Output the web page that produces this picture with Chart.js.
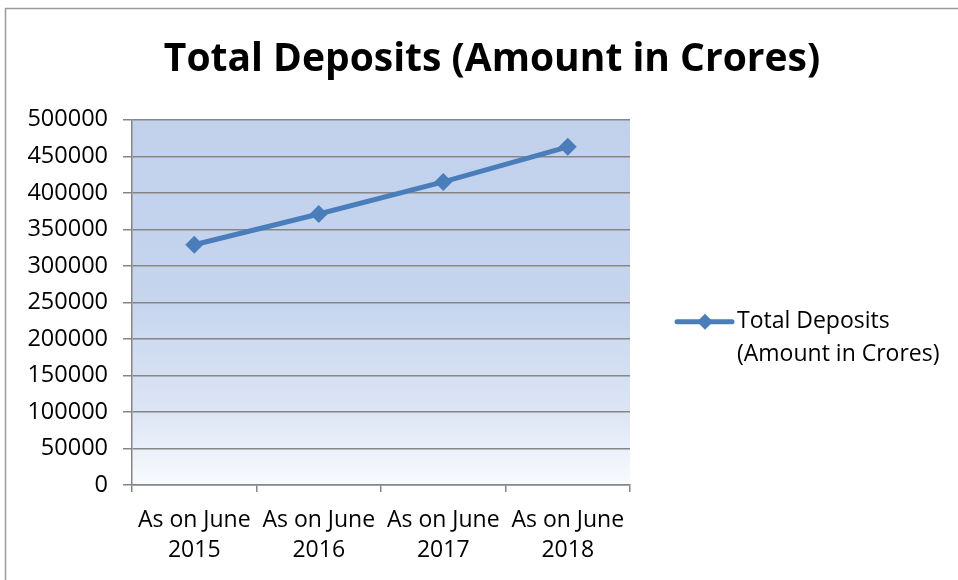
<!DOCTYPE html>
<html>
<head>
<meta charset="utf-8">
<script src="https://cdn.jsdelivr.net/npm/chart.js@4.4.1/dist/chart.umd.min.js"></script>
<style>
  html, body { margin: 0; padding: 0; background: #fff; }
  #wrap { width: 958px; height: 580px; }
</style>
</head>
<body>
<div id="wrap"><canvas id="depositChart" width="958" height="580"></canvas></div>
<script>
// values
const years = ['2015', '2016', '2017', '2018'];
const categories = years.map(y => ['As on June', y]);
const deposits = [329000, 371000, 415000, 463000];
const seriesName = 'Total Deposits (Amount in Crores)';
const legendLines = ['Total Deposits', '(Amount in Crores)'];
const yMin = 0;
const yMax = 500000;
const yStep = 50000;

const lineColor = '#4a7ebb';
const gridColor = '#868686';
const fontFamily = "'Open Sans', 'DejaVu Sans', sans-serif";

// gradient fill behind the plot + outer frame
const plotBackground = {
    id: 'plotBackground',
    beforeDraw(chart) {
        const { ctx, chartArea } = chart;
        ctx.save();
        ctx.fillStyle = '#fff';
        ctx.fillRect(0, 0, chart.width, chart.height);
        const g = ctx.createLinearGradient(0, chartArea.top, 0, chartArea.bottom);
        g.addColorStop(0, '#c1d1ec');
        g.addColorStop(0.5, '#c6d5ee');
        g.addColorStop(0.8, '#dce5f4');
        g.addColorStop(1, '#f9fbfe');
        ctx.fillStyle = g;
        ctx.fillRect(chartArea.left, chartArea.top, chartArea.right - chartArea.left, chartArea.bottom - chartArea.top);
        ctx.strokeStyle = '#9a9a9a';
        ctx.lineWidth = 1.5;
        ctx.strokeRect(5.5, 8.5, chart.width + 20, chart.height + 20);
        ctx.restore();
    }
};

// legend drawn by hand: line + diamond, two-line label
const sideLegend = {
    id: 'sideLegend',
    afterDraw(chart) {
        const { ctx, chartArea } = chart;
        const x0 = chartArea.right + 47;
        const y0 = chartArea.top + 202;
        ctx.save();
        ctx.strokeStyle = lineColor;
        ctx.lineWidth = 5;
        ctx.lineCap = 'round';
        ctx.beginPath();
        ctx.moveTo(x0, y0);
        ctx.lineTo(x0 + 55, y0);
        ctx.stroke();
        ctx.fillStyle = lineColor;
        ctx.beginPath();
        ctx.moveTo(x0 + 28, y0 - 8);
        ctx.lineTo(x0 + 36, y0);
        ctx.lineTo(x0 + 28, y0 + 8);
        ctx.lineTo(x0 + 20, y0);
        ctx.closePath();
        ctx.fill();
        ctx.fillStyle = '#000';
        ctx.font = '23px ' + fontFamily;
        ctx.textBaseline = 'middle';
        ctx.textAlign = 'left';
        legendLines.forEach((t, i) => {
            ctx.fillText(t, x0 + 60, y0 + i * 33);
        });
        ctx.restore();
    }
};

const ctx = document.getElementById('depositChart').getContext('2d');
const depositChart = new Chart(ctx, {
    type: 'line',
    data: {
        labels: categories,
        datasets: [{
            label: seriesName,
            data: deposits,
            borderColor: lineColor,
            backgroundColor: lineColor,
            borderWidth: 5,
            pointStyle: 'rectRot',
            pointRadius: 9,
            pointBorderWidth: 0,
            pointBackgroundColor: lineColor,
            tension: 0
        }]
    },
    options: {
        responsive: false,
        animation: false,
        devicePixelRatio: 1,
        layout: { padding: { left: 26, right: 0, top: 0, bottom: 0 } },
        plugins: {
            legend: { display: false },
            tooltip: { enabled: false },
            title: {
                display: true,
                text: seriesName,
                color: '#000',
                font: { family: fontFamily, size: 39, weight: 'bold', lineHeight: 1.2 },
                padding: { top: 36, bottom: 37 }
            }
        },
        scales: {
            x: {
                offset: true,
                grid: {
                    offset: true,
                    drawOnChartArea: false,
                    color: gridColor,
                    lineWidth: 1.5,
                    tickLength: 7
                },
                border: { display: true, color: gridColor, width: 1.5 },
                ticks: {
                    color: '#000',
                    font: { family: fontFamily, size: 23, lineHeight: 1.3 },
                    padding: 14,
                    maxRotation: 0,
                    autoSkip: false
                },
                afterFit(scale) { scale.height = 95; }
            },
            y: {
                min: yMin,
                max: yMax,
                grid: { color: gridColor, lineWidth: 1.5, tickLength: 9 },
                border: { display: true, color: gridColor, width: 1.5 },
                ticks: {
                    stepSize: yStep,
                    color: '#000',
                    font: { family: fontFamily, size: 23.5 },
                    padding: 15,
                    callback: v => String(v)
                },
                afterFit(scale) { scale.width = 106; }
            },
            // empty axis on the right keeps room for the legend
            yRight: {
                position: 'right',
                display: true,
                grid: { display: false },
                border: { display: false },
                ticks: { display: false },
                afterFit(scale) { scale.width = 328; }
            }
        }
    },
    plugins: [plotBackground, sideLegend]
});
</script>
</body>
</html>
